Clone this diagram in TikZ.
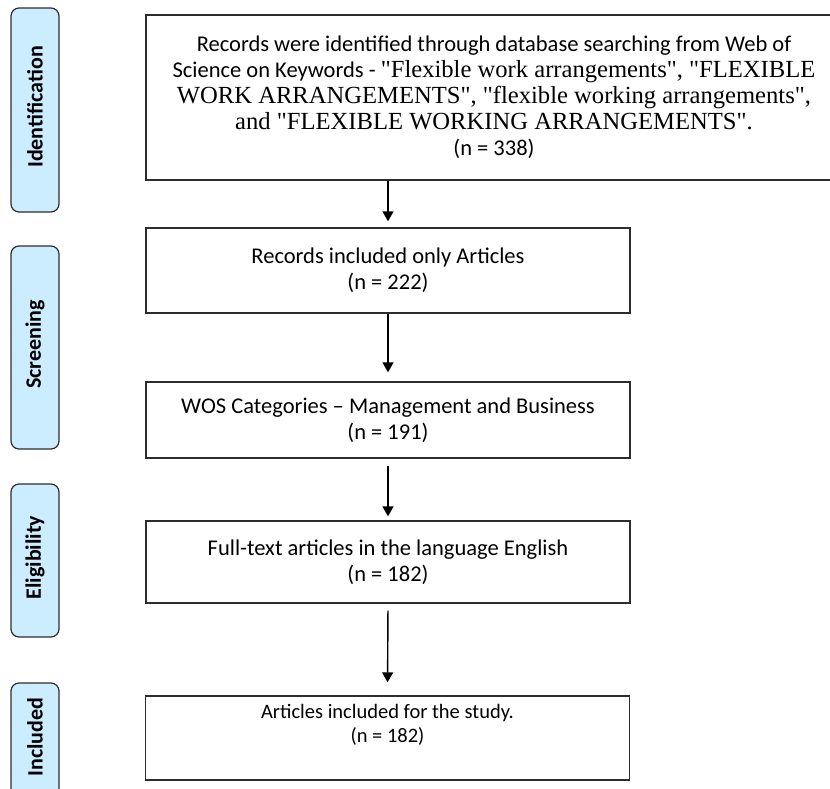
\documentclass[tikz,border=0pt]{standalone}
\usepackage{fontspec}
\setmainfont{Carlito}
\newfontfamily\tnr{Liberation Serif}
\usetikzlibrary{arrows.meta}
\definecolor{sidefill}{RGB}{204,236,255}
\definecolor{edgegray}{RGB}{45,45,45}
\newcommand{\tnrtext}[1]{{\fontsize{24.6}{26}\selectfont\tnr #1}}
\begin{document}
\begin{tikzpicture}[x=1pt,y=-1pt,
  mainbox/.style={draw=edgegray,line width=1.4pt,rectangle,align=center,inner sep=0pt},
  sidebox/.style={draw=edgegray,fill=sidefill,line width=1.2pt,rounded corners=8pt,minimum width=48pt,inner sep=0pt},
  sidelabel/.style={rotate=90,font=\fontsize{22}{26}\selectfont\bfseries,inner sep=0pt,xshift=3pt},
  bigtext/.style={font=\fontsize{22.5}{26}\selectfont},
  smalltext/.style={font=\fontsize{20.5}{24}\selectfont},
  arr/.style={line width=1.4pt,-{Triangle[length=10pt,width=11pt]}}]
\useasboundingbox (0,0) rectangle (830,789);
\clip (0,0) rectangle (830,789);
\fill[white] (0,0) rectangle (830,789);

% side phase boxes
\node[sidebox,minimum height=204pt] (idbox) at (35,110) {};
\node[sidelabel] (idlab) at (idbox.center) {Identification};
\node[sidebox,minimum height=203pt] (scbox) at (35,347.5) {};
\node[sidelabel] (sclab) at (scbox.center) {Screening};
\node[sidebox,minimum height=153pt] (elbox) at (35,560.5) {};
\node[sidelabel] (ellab) at (elbox.center) {Eligibility};
\node[sidebox,minimum height=114pt] (inbox) at (35,740) {};
\node[sidelabel] (inlab) at (inbox.center) {Included};

% main boxes
\node[mainbox,bigtext,minimum width=696pt,minimum height=165pt] (b1) at (494,97.5)
  {Records were identified through database searching from Web of\\
   Science on Keywords - \tnrtext{"Flexible work arrangements", "FLEXIBLE}\\
   \tnrtext{WORK ARRANGEMENTS", "flexible working arrangements",}\\
   \tnrtext{and "FLEXIBLE WORKING ARRANGEMENTS".}\\
   (n = 338)};
\node[mainbox,bigtext,minimum width=484pt,minimum height=85pt] (b2) at (388,270.5)
  {Records included only Articles\\(n = 222)};
\node[mainbox,bigtext,minimum width=484pt,minimum height=76pt] (b3) at (388,420)
  {WOS Categories -- Management and Business\\(n = 191)};
\node[mainbox,bigtext,minimum width=484pt,minimum height=82pt] (b4) at (388,562)
  {Full-text articles in the language English\\(n = 182)};
\node[mainbox,minimum width=484pt,minimum height=84pt] (b5) at (387.5,738) {};
\node[smalltext,align=center,inner sep=0pt] (b5text) at (387.5,725)
  {Articles included for the study.\\(n = 182)};

% arrows
\draw[arr,shorten >=6pt] (b1.south -| b2.north) -- (b2.north);
\draw[arr,shorten >=9pt] (b2.south) -- (b3.north);
\draw[arr,shorten <=7pt,shorten >=4pt] (b3.south) -- (b4.north);
\draw[arr,shorten <=7pt,shorten >=13pt] (b4.south) -- (b5.north);
\end{tikzpicture}
\end{document}
